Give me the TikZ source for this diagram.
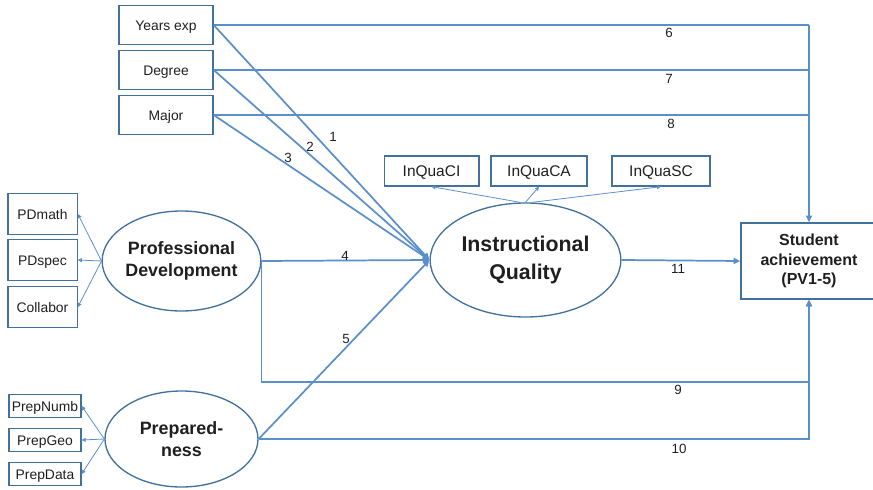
\documentclass[tikz,border=0pt]{standalone}
\usepackage{fontspec}
\setmainfont{Liberation Sans}
\usepackage{xcolor}
\usetikzlibrary{shapes.geometric,arrows.meta}
\definecolor{lblue}{HTML}{5b8fcb}
\definecolor{bblue}{HTML}{41719c}
\definecolor{tgray}{HTML}{1f1f1f}

\tikzset{
	obs/.style={draw=bblue, line width=1pt, text=tgray, font=\fontsize{10.4}{12}\selectfont, inner sep=0pt, text height=7.5pt, text depth=0pt},
	qua/.style={obs, minimum height=22.5pt, font=\fontsize{11.6}{13}\selectfont, text height=8.3pt},
	latent/.style={draw=bblue, line width=1pt, ellipse, text=tgray, align=center, font=\bfseries\fontsize{13.4}{17}\selectfont, inner sep=0pt},
	conn/.style={draw=lblue, line width=1.3pt, -{Triangle[length=5pt,width=4.5pt]}},
	line/.style={draw=lblue, line width=1.5pt},
	ind/.style={draw=lblue, line width=0.6pt, -{Triangle[length=3pt,width=3pt]}},
	num/.style={text=tgray, font=\fontsize{10}{12}\selectfont, inner sep=0pt}
}

\begin{document}
\begin{tikzpicture}[x=0.75pt, y=-0.75pt]
		\useasboundingbox (0,0) rectangle (873,489);
		% teacher background
		\node[obs, minimum width=70.5pt, minimum height=29.25pt] (yrs) at (166,25) {Years exp};
		\node[obs, minimum width=70.5pt, minimum height=29.25pt] (deg) at (166,70) {Degree};
		\node[obs, minimum width=70.5pt, minimum height=29.25pt] (maj) at (166,115) {Major};
		% latent factors
		\node[latent, minimum width=114.75pt, minimum height=75pt] (pd) at (181.5,261) {Professional\\Development};
		\node[latent, minimum width=114.75pt, minimum height=72pt] (prep) at (181.5,439) {Prepared-\\ness};
		\node[latent, minimum width=143pt, minimum height=85.5pt, font=\bfseries\fontsize{16}{21}\selectfont] (iq) at (525.5,260) {Instructional\\Quality};
		\node[draw=bblue, line width=1pt, text=tgray, inner sep=0pt, minimum width=102pt, minimum height=57pt, align=center, font=\bfseries\fontsize{12}{14.6}\selectfont] (sa) at (809,261) {Student\\achievement\\(PV1-5)};
		% indicators
		\node[obs, minimum width=52pt, minimum height=31pt] (pdm) at (42.5,214) {PDmath};
		\node[obs, minimum width=52pt, minimum height=31pt] (pds) at (42.5,260) {PDspec};
		\node[obs, minimum width=52pt, minimum height=31pt] (col) at (42.5,307) {Collabor};
		\node[obs, minimum width=54pt, minimum height=17pt] (pnum) at (45,406) {PrepNumb};
		\node[obs, minimum width=54pt, minimum height=17pt] (pgeo) at (45,440) {PrepGeo};
		\node[obs, minimum width=54pt, minimum height=17pt] (pdat) at (45,474) {PrepData};
		\node[qua, minimum width=71pt] (icl) at (431.5,171) {InQuaCI};
		\node[qua, minimum width=72pt] (ica) at (539,171) {InQuaCA};
		\node[qua, minimum width=73.5pt] (isc) at (661,171) {InQuaSC};
		% measurement arrows
		\draw[ind] (pd.west) -- (pdm.east);
		\draw[ind] (pd.west) -- (pds.east);
		\draw[ind] (pd.west) -- (col.east);
		\draw[ind] (prep.west) -- (pnum.east);
		\draw[ind] (prep.west) -- (pgeo.east);
		\draw[ind] (prep.west) -- (pdat.east);
		\draw[ind] ([xshift=-4pt]iq.north) -- (icl.south);
		\draw[ind] (iq.north) -- (ica.south);
		\draw[ind] ([xshift=5pt]iq.north) -- (isc.south);
		% paths to instructional quality
		\draw[conn] (yrs.east) -- (iq.west);
		\draw[conn] (deg.east) -- (iq.west);
		\draw[conn] (maj.east) -- (iq.west);
		\draw[conn] (pd.east) -- (iq.west);
		\draw[conn] (prep.east) -- (iq.west);
		\draw[conn] (iq.east) -- (sa.west);
		% direct paths to achievement
		\draw[line] (yrs.east) -- (yrs.east -| sa.north);
		\draw[line] (deg.east) -- (deg.east -| sa.north);
		\draw[line] (maj.east) -- (maj.east -| sa.north);
		\draw[conn] (yrs.east -| sa.north) -- (sa.north);
		\draw[conn, line width=1.1pt] (pd.east) -- ++(0,121) -| (sa.south);
		\draw[conn, line width=1.1pt] (prep.east) -| (sa.south);
		% path numbers
		\node[num] (n1) at (333,137) {1};
		\node[num] (n2) at (310,147) {2};
		\node[num] (n3) at (288,158) {3};
		\node[num] (n4) at (345,256) {4};
		\node[num] (n5) at (346,339) {5};
		\node[num] (n6) at (669,33) {6};
		\node[num] (n7) at (669,79) {7};
		\node[num] (n8) at (671,124) {8};
		\node[num] (n9) at (678,390) {9};
		\node[num] (n10) at (679,449) {10};
		\node[num] (n11) at (678,269) {11};
	\end{tikzpicture}
\end{document}
